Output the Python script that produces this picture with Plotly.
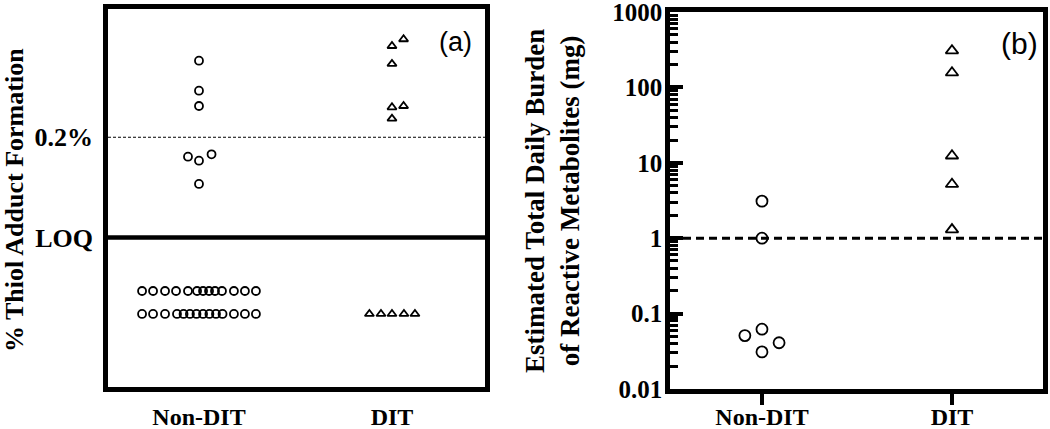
import plotly.graph_objects as go

# ---------------- data ----------------
categories = ["Non-DIT", "DIT"]

# Panel (a): relative adduct level (0 = LOQ, 1 = 0.2%)
a_loq = 0.0
a_threshold = 1.0
a_ytick_vals = [a_loq, a_threshold]
a_ytick_text = ["LOQ", "0.2%"]

a_nondit_above = [1.764, 1.465, 1.312, 0.806, 0.766, 0.830, 0.534]
a_nondit_above_jit = [0, 0, 0, -0.057, 0, 0.065, 0]
a_dit_above = [1.911, 1.978, 1.732, 1.299, 1.312, 1.186]
a_dit_above_jit = [0, 0.06, 0, 0, 0.06, 0]

a_nondit_below_row1 = [-0.534] * 13
a_nondit_below_row1_jit = [-0.295, -0.238, -0.176, -0.119, -0.057, -0.010, 0.021,
                           0.052, 0.083, 0.119, 0.181, 0.238, 0.295]
a_nondit_below_row2 = [-0.763] * 14
a_nondit_below_row2_jit = [-0.295, -0.238, -0.176, -0.114, -0.080, -0.047, -0.013,
                           0.021, 0.054, 0.088, 0.122, 0.181, 0.238, 0.295]
a_dit_below = [-0.763] * 5
a_dit_below_jit = [-0.117, -0.057, 0, 0.062, 0.119]

# Panel (b): estimated total daily burden (mg)
b_threshold = 1.0
b_nondit = [3.1, 1.0, 0.051, 0.062, 0.041, 0.031]
b_nondit_jit = [0, 0, -0.09, 0, 0.09, 0]
b_dit = [308, 157, 12.4, 5.2, 1.3]
b_dit_jit = [0, 0, 0, 0, 0]
b_ytick_vals = [0.01, 0.1, 1, 10, 100, 1000]
b_ytick_text = ["0.01", "0.1", "1", "10", "100", "1000"]

# ---------------- figure ----------------
W, H = 1050, 429
SERIF = "Liberation Serif"
SANS = "Liberation Sans"
BLACK = "black"

fig = go.Figure()


def xs(center, jit):
    return [center + j for j in jit]


circ_a = dict(symbol="circle-open", size=8, color=BLACK, line=dict(width=1.8, color=BLACK))
tri_a = dict(symbol="triangle-up-open", size=8, color=BLACK, line=dict(width=1.8, color=BLACK))
circ_b = dict(symbol="circle-open", size=11, color=BLACK, line=dict(width=1.8, color=BLACK))
tri_b = dict(symbol="triangle-up-open", size=11, color=BLACK, line=dict(width=1.8, color=BLACK))

# panel (a)
fig.add_trace(go.Scatter(x=xs(0, a_nondit_above_jit), y=a_nondit_above, mode="markers",
                         marker=circ_a, xaxis="x", yaxis="y"))
fig.add_trace(go.Scatter(x=xs(0, a_nondit_below_row1_jit), y=a_nondit_below_row1, mode="markers",
                         marker=circ_a, xaxis="x", yaxis="y"))
fig.add_trace(go.Scatter(x=xs(0, a_nondit_below_row2_jit), y=a_nondit_below_row2, mode="markers",
                         marker=circ_a, xaxis="x", yaxis="y"))
fig.add_trace(go.Scatter(x=xs(1, a_dit_above_jit), y=a_dit_above, mode="markers",
                         marker=tri_a, xaxis="x", yaxis="y"))
fig.add_trace(go.Scatter(x=xs(1, a_dit_below_jit), y=a_dit_below, mode="markers",
                         marker=tri_a, xaxis="x", yaxis="y"))

# panel (b)
fig.add_trace(go.Scatter(x=xs(0, b_nondit_jit), y=b_nondit, mode="markers",
                         marker=circ_b, xaxis="x2", yaxis="y2"))
fig.add_trace(go.Scatter(x=xs(1, b_dit_jit), y=b_dit, mode="markers",
                         marker=tri_b, xaxis="x2", yaxis="y2"))

# reference lines
fig.add_shape(type="line", xref="x domain", yref="y", x0=0, x1=1, y0=a_threshold, y1=a_threshold,
              line=dict(color=BLACK, width=1.2, dash="3px,2px"), layer="below")
fig.add_shape(type="line", xref="x domain", yref="y", x0=0, x1=1, y0=a_loq, y1=a_loq,
              line=dict(color=BLACK, width=4.5))
fig.add_shape(type="line", xref="x2 domain", yref="y2", x0=0, x1=1, y0=b_threshold, y1=b_threshold,
              line=dict(color=BLACK, width=3, dash="8px,5px"), layer="below")

tickfont_cat = dict(family=SERIF, size=24, color=BLACK, weight="bold")
tickfont_ya = dict(family=SERIF, size=26, color=BLACK, weight="bold")
tickfont_yb = dict(family=SERIF, size=25, color=BLACK, weight="bold")

ax_line = dict(showline=True, linecolor=BLACK, linewidth=4.5, mirror=True,
               showgrid=False, zeroline=False, automargin=False)

fig.update_layout(
    width=W, height=H,
    margin=dict(l=0, r=0, t=0, b=0),
    paper_bgcolor="white", plot_bgcolor="white",
    showlegend=False,
    xaxis=dict(domain=[108 / W, 485 / W], range=[-0.4715, 1.482],
               tickvals=[0, 1], ticktext=categories, ticks="",
               ticklabelstandoff=4, tickfont=tickfont_cat, anchor="y", **ax_line),
    yaxis=dict(domain=[1 - 387 / H, 1 - 9 / H], range=[-1.492, 2.28],
               tickvals=a_ytick_vals, ticktext=a_ytick_text, ticks="",
               ticklabelstandoff=5, tickfont=tickfont_ya, anchor="x", **ax_line),
    xaxis2=dict(domain=[670 / W, 1043 / W], range=[-0.484, 1.479],
                tickvals=[0, 1], ticktext=categories, ticks="outside",
                ticklen=11, tickwidth=4, tickcolor=BLACK, ticklabelstandoff=-9,
                tickfont=tickfont_cat, anchor="y2", **ax_line),
    yaxis2=dict(domain=[1 - 389 / H, 1 - 12 / H], type="log", range=[-2.001, 3.001],
                tickvals=b_ytick_vals, ticktext=b_ytick_text, ticks="inside",
                ticklen=13, tickwidth=4, tickcolor=BLACK, ticklabelstandoff=-2,
                ticklabeloverflow="allow",
                minor=dict(ticks="inside", ticklen=8, tickwidth=3, tickcolor=BLACK, dtick="D1",
                           showgrid=False),
                tickfont=tickfont_yb, anchor="x2", **ax_line),
)

# axis titles and panel labels
fig.add_annotation(xref="paper", yref="paper", x=14 / W, y=1 - 200 / H,
                   text="<b>% Thiol Adduct Formation</b>", textangle=-90, showarrow=False,
                   xanchor="center", yanchor="middle",
                   font=dict(family=SERIF, size=26, color=BLACK))
fig.add_annotation(xref="paper", yref="paper", x=552 / W, y=1 - 201 / H,
                   text="<b>Estimated Total Daily Burden<br>of Reactive Metabolites (mg)</b>",
                   textangle=-90, showarrow=False, xanchor="center", yanchor="middle",
                   font=dict(family=SERIF, size=27, color=BLACK))
fig.add_annotation(xref="paper", yref="paper", x=455 / W, y=1 - 42 / H,
                   text="(a)", showarrow=False, xanchor="center", yanchor="middle",
                   font=dict(family=SANS, size=27, color=BLACK))
fig.add_annotation(xref="paper", yref="paper", x=1019 / W, y=1 - 43 / H,
                   text="(b)", showarrow=False, xanchor="center", yanchor="middle",
                   font=dict(family=SANS, size=30, color=BLACK))

# the page body has a default 8px margin; remove it so the figure fills the window
fig.write_html("out.html", config={"displayModeBar": False},
               post_script="document.body.style.margin='0';")
